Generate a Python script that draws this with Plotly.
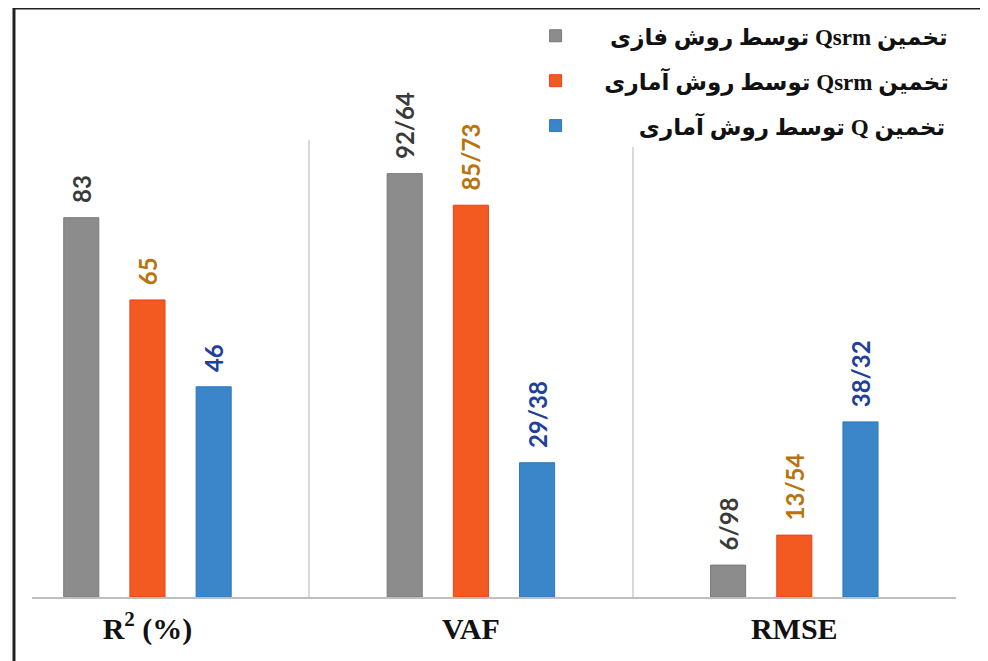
import plotly.graph_objects as go

categories = ["R<sup>2</sup> (%)", "VAF", "RMSE"]
cat_pos = [0, 1, 2]
series_names = [
    "تخمین Qsrm توسط روش فازی",
    "تخمین Qsrm توسط روش آماری",
    "تخمین Q توسط روش آماری",
]
fuzzy_qsrm = [83, 92.64, 6.98]
stat_qsrm = [65, 85.73, 13.54]
stat_q = [46, 29.38, 38.32]

bar_colors = ["#8C8C8C", "#F25A22", "#3A86C8"]
edge_colors = ["#7A7A7A", "#E8401A", "#2E78BE"]
label_colors = ["#3A3A3A", "#B8740B", "#21409A"]
pads = [6, 5, 11]

def fmt(v):
    return "\u00a0\u00a0" + f"{v:g}".replace(".", "/")

fig = go.Figure()
for i, vals in enumerate([fuzzy_qsrm, stat_qsrm, stat_q]):
    name = series_names[i]
    fig.add_trace(go.Bar(
        x=cat_pos, y=vals,
        name="\u00a0" * pads[i] + "\u202B" + name + "\u202C",
        legendgroup=f"g{i}",
        marker=dict(color=bar_colors[i], line=dict(color=edge_colors[i], width=1)),
        text=[fmt(v) for v in vals],
        textposition="outside",
        textangle=-90,
        constraintext="none",
        cliponaxis=False,
        textfont=dict(family="Lato", size=24, color=label_colors[i], weight="bold"),
    ))

fig.update_layout(
    width=980, height=653,
    margin=dict(l=24, r=32, t=132, b=64, autoexpand=False),
    paper_bgcolor="white", plot_bgcolor="white",
    barmode="group", bargap=0.386, bargroupgap=0.47,
    showlegend=True,
    legend=dict(
        x=0.545, y=1.275, xanchor="left", yanchor="top",
        bgcolor="white", traceorder="grouped", tracegroupgap=12,
        font=dict(family="Liberation Serif, DejaVu Sans", size=23, color="#111111", weight="bold"),
    ),
    xaxis=dict(
        range=[-0.357, 2.5], tickvals=cat_pos, ticktext=categories,
        showgrid=False, zeroline=False,
        showline=True, linecolor="#BFBFBF", linewidth=2,
        ticks="", ticklabelstandoff=4,
        tickfont=dict(family="Liberation Serif", size=30, color="#111111", weight="bold"),
        minor=dict(tickvals=[0.5, 1.5, 2.5], showgrid=True, gridcolor="#D9D9D9", gridwidth=2),
    ),
    yaxis=dict(range=[0, 100], visible=False, showgrid=False),
    shapes=[
        dict(type="line", xref="paper", yref="paper", x0=-0.0195, x1=-0.0195, y0=-0.2, y1=1.289,
             line=dict(color="#222222", width=3)),
        dict(type="line", xref="paper", yref="paper", x0=-0.0195, x1=1.05, y0=1.289, y1=1.289,
             line=dict(color="#222222", width=3)),
    ],
)

fig.write_html("out.html")
